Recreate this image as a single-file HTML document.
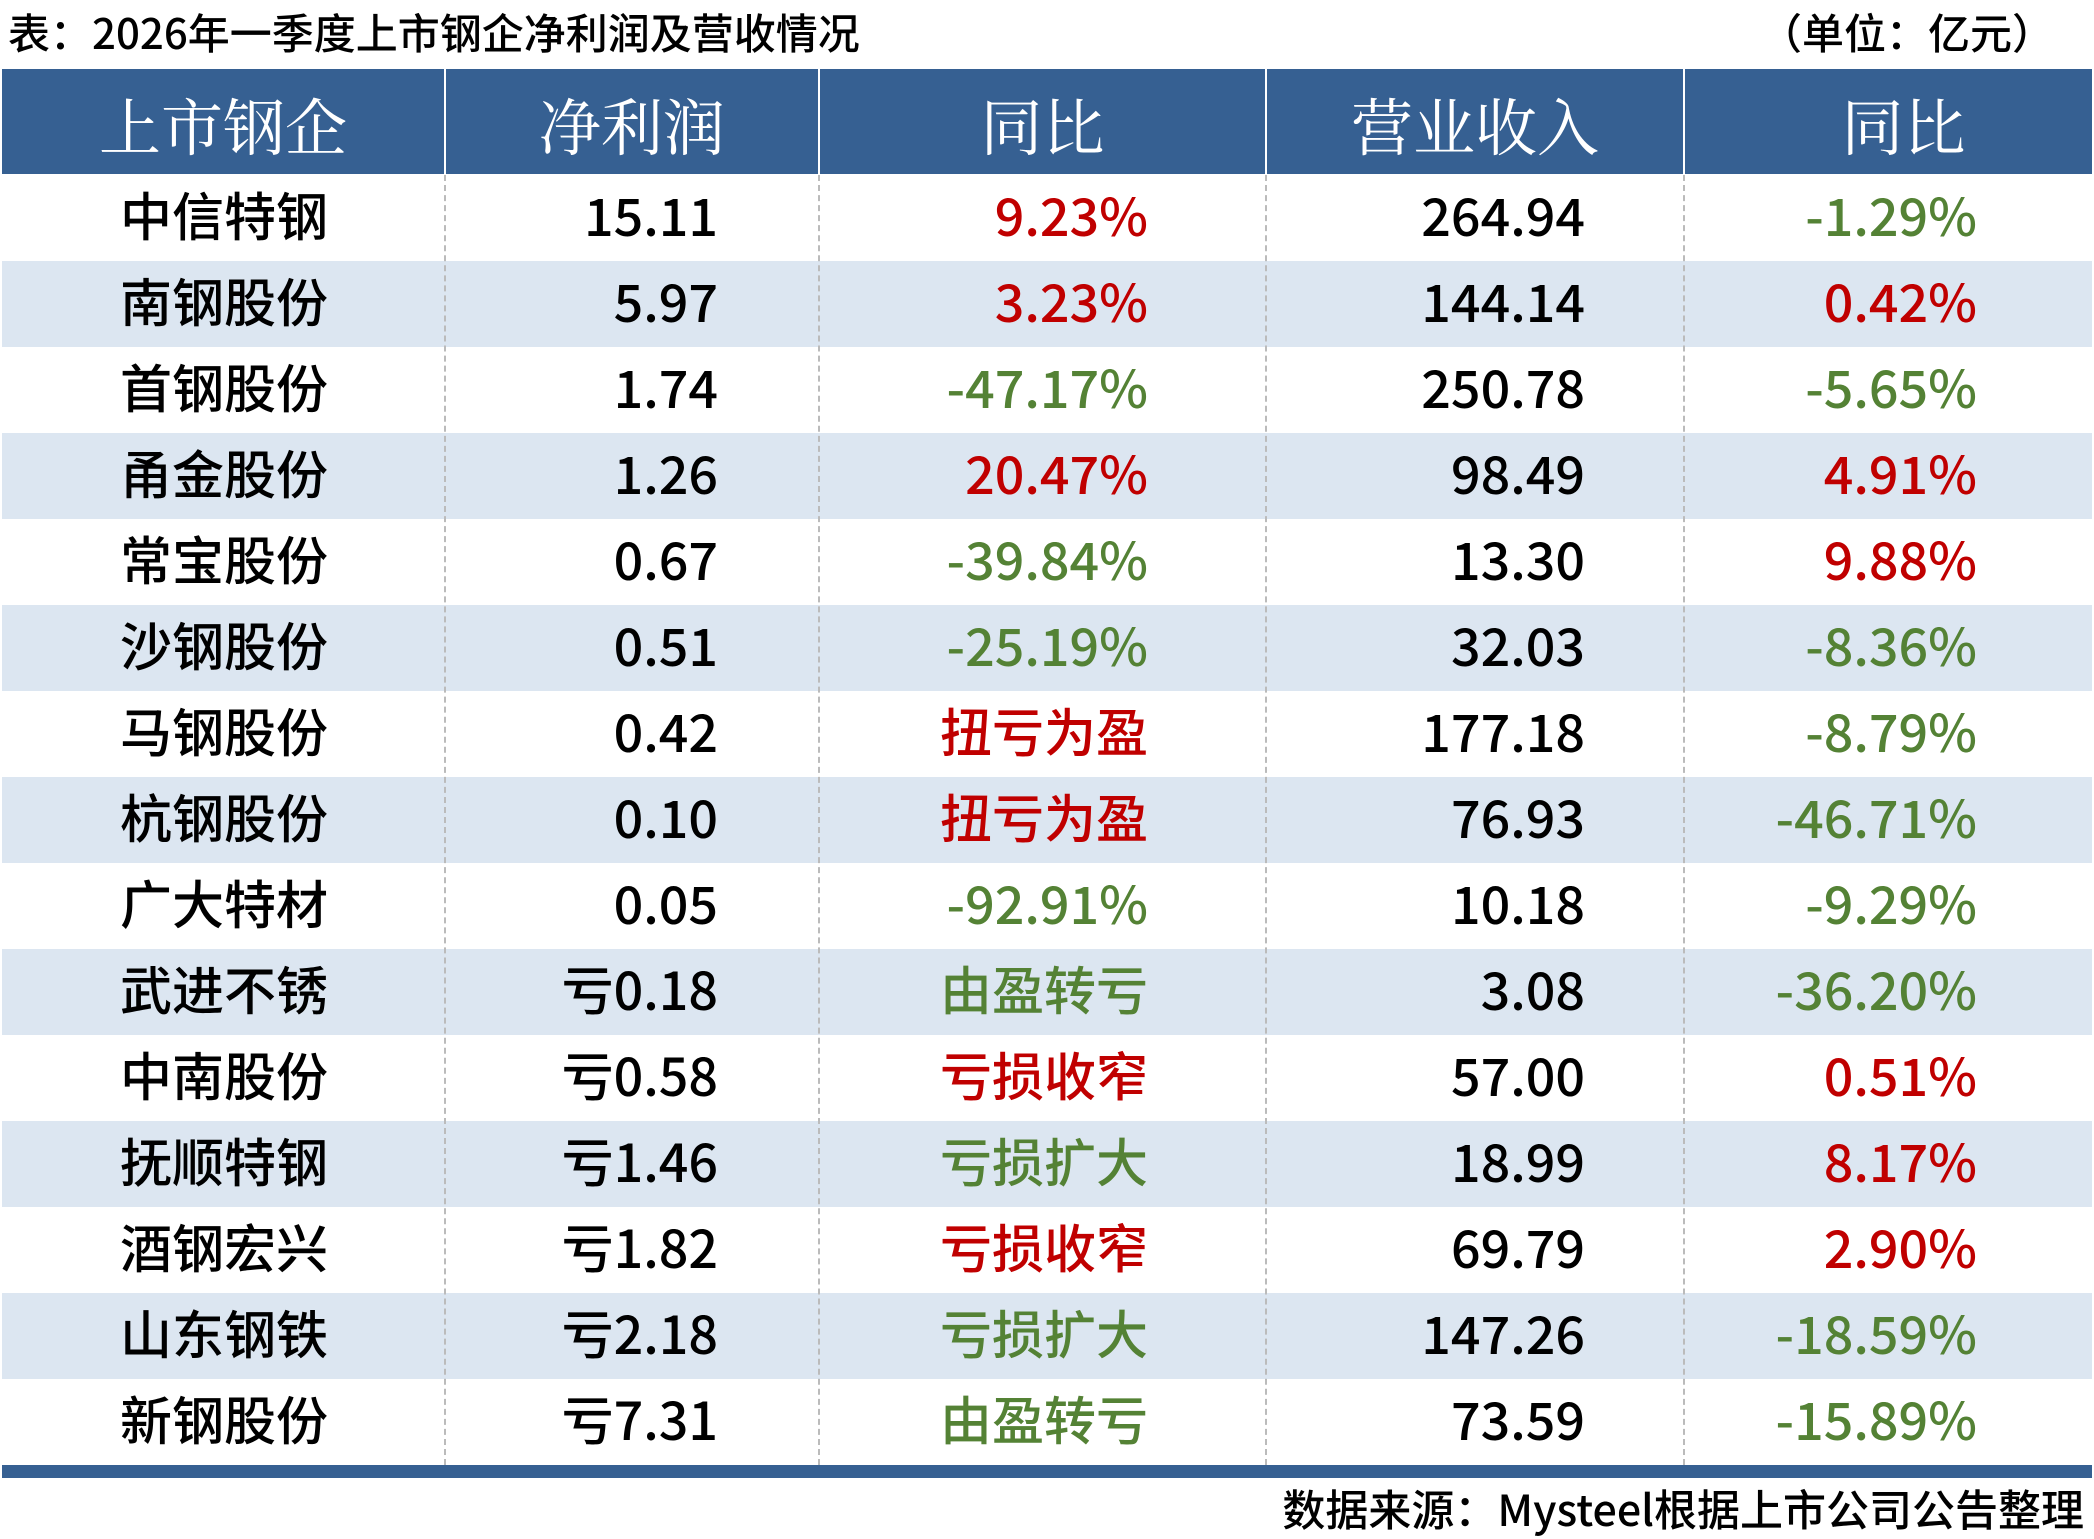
<!DOCTYPE html>
<html><head><meta charset="utf-8">
<style>
body{margin:0;width:2094px;height:1538px;background:#fff;position:relative;overflow:hidden;font-family:"Noto Sans CJK SC","Liberation Sans",sans-serif;}
.a{position:absolute;white-space:nowrap;}
.hd{position:absolute;top:69px;height:105px;background:#366092;color:#fff;font-family:"Noto Serif CJK SC","Liberation Serif",serif;font-size:62px;line-height:110px;text-align:center;}
.row{position:absolute;left:2px;width:2090px;height:86px;}
.c{position:absolute;top:-4px;font-size:52px;line-height:86px;white-space:nowrap;font-family:"Noto Sans CJK SC",sans-serif;font-weight:500;}
.r{color:#c00000}.g{color:#548235}
.v{position:absolute;top:175px;height:1290px;border-left:2px dashed #bbb;}
</style></head><body>
<div class="a" style="left:8px;top:4px;font-size:42px;line-height:56px;font-weight:500;">表：2026年一季度上市钢企净利润及营收情况</div>
<div class="a" style="right:40px;top:4px;font-size:42px;line-height:56px;font-weight:500;">（单位：亿元）</div>
<div class="hd" style="left:2px;width:442px;">上市钢企</div>
<div class="hd" style="left:446px;width:372px;">净利润</div>
<div class="hd" style="left:820px;width:445px;">同比</div>
<div class="hd" style="left:1267px;width:416px;">营业收入</div>
<div class="hd" style="left:1685px;width:407px;padding-left:30px;box-sizing:border-box;">同比</div>
<div id="rows"></div>
<div class="v" style="left:444px"></div>
<div class="v" style="left:818px"></div>
<div class="v" style="left:1265px"></div>
<div class="v" style="left:1683px"></div>
<div class="a" style="left:2px;top:1465px;width:2090px;height:13px;background:#366092;"></div>
<div class="a" style="right:10px;top:1478px;font-size:43px;line-height:60px;font-weight:500;">数据来源：Mysteel根据上市公司公告整理</div>
<script>
var d=[["中信特钢","15.11","9.23%","r","264.94","-1.29%","g"],
["南钢股份","5.97","3.23%","r","144.14","0.42%","r"],
["首钢股份","1.74","-47.17%","g","250.78","-5.65%","g"],
["甬金股份","1.26","20.47%","r","98.49","4.91%","r"],
["常宝股份","0.67","-39.84%","g","13.30","9.88%","r"],
["沙钢股份","0.51","-25.19%","g","32.03","-8.36%","g"],
["马钢股份","0.42","扭亏为盈","r","177.18","-8.79%","g"],
["杭钢股份","0.10","扭亏为盈","r","76.93","-46.71%","g"],
["广大特材","0.05","-92.91%","g","10.18","-9.29%","g"],
["武进不锈","亏0.18","由盈转亏","g","3.08","-36.20%","g"],
["中南股份","亏0.58","亏损收窄","r","57.00","0.51%","r"],
["抚顺特钢","亏1.46","亏损扩大","g","18.99","8.17%","r"],
["酒钢宏兴","亏1.82","亏损收窄","r","69.79","2.90%","r"],
["山东钢铁","亏2.18","亏损扩大","g","147.26","-18.59%","g"],
["新钢股份","亏7.31","由盈转亏","g","73.59","-15.89%","g"]];
var h="";
d.forEach(function(x,i){
var t=175+i*86;
h+='<div class="row" style="top:'+t+'px;background:'+(i%2?'#dce6f1':'#fff')+'">'+
'<div class="c" style="left:0;width:444px;text-align:center">'+x[0]+'</div>'+
'<div class="c" style="right:1374px;text-align:right">'+x[1]+'</div>'+
'<div class="c '+x[3]+'" style="right:944px;text-align:right">'+x[2]+'</div>'+
'<div class="c" style="right:507px;text-align:right">'+x[4]+'</div>'+
'<div class="c '+x[6]+'" style="right:115px;text-align:right">'+x[5]+'</div></div>';
});
document.getElementById("rows").innerHTML=h;
</script>
</body></html>
